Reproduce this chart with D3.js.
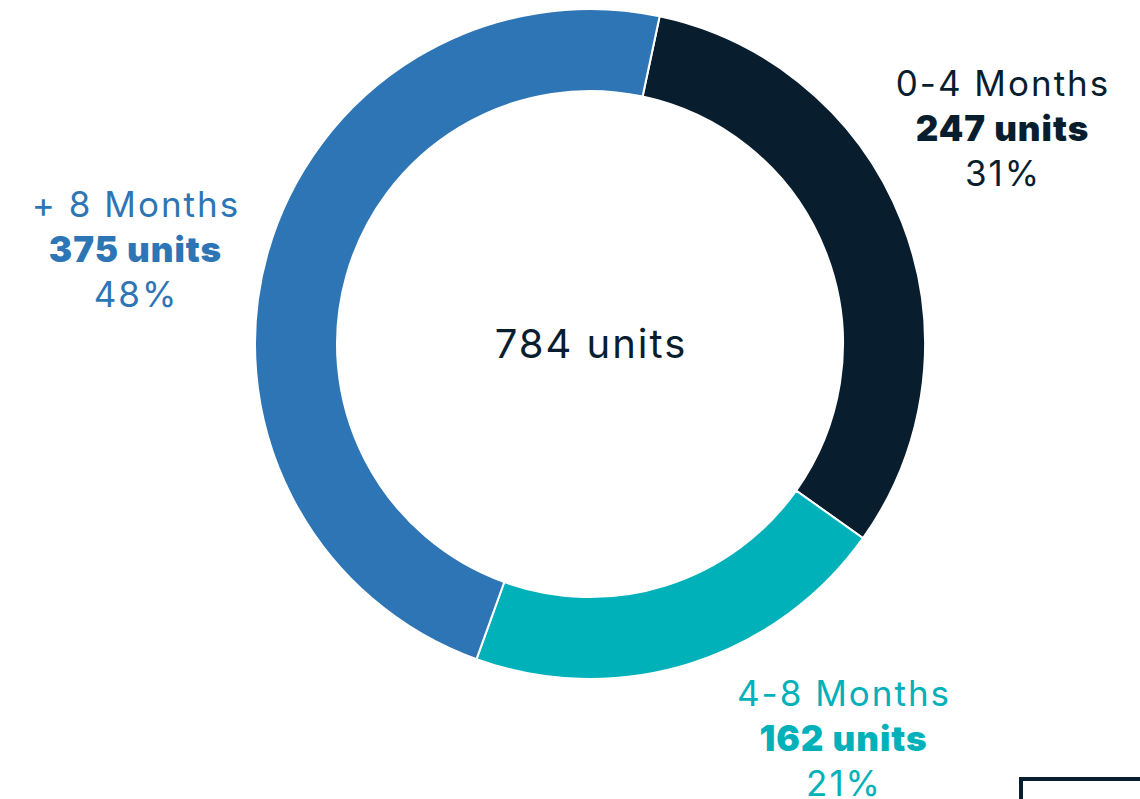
<!DOCTYPE html>
<html>
<head>
<meta charset="utf-8">
<script src="https://cdn.jsdelivr.net/npm/d3@7"></script>
<style>
  html, body { margin: 0; padding: 0; background: #ffffff; }
  svg { display: block; }
  text { font-family: Inter, "Open Sans", sans-serif; }
</style>
</head>
<body>
<svg id="chart" width="1140" height="799"></svg>
<script>
// Inventory age buckets
const categories = ["0-4 Months", "4-8 Months", "+ 8 Months"];
const units = [247, 162, 375];
const percentLabels = ["31%", "21%", "48%"];
const totalLabel = "784 units";
const colors = ["#081e2f", "#00b1b9", "#2e75b5"];

// Label placement relative to the ring centre (dx, dy of the first line baseline)
const labelOffsets = [[412, -248], [253, 362], [-455, -127]];

const width = 1140, height = 799;
const cx = 590, cy = 344;
const outerR = 335, innerR = 253;
const startAngle = 12 * Math.PI / 180;

const svg = d3.select("#chart");
const g = svg.append("g").attr("transform", `translate(${cx},${cy})`);

const data = categories.map((c, i) => ({ name: c, value: units[i], pct: percentLabels[i], color: colors[i], off: labelOffsets[i] }));

const pie = d3.pie()
  .value(d => d.value)
  .sort(null)
  .startAngle(startAngle)
  .endAngle(startAngle + 2 * Math.PI);

const arc = d3.arc().innerRadius(innerR).outerRadius(outerR);

g.selectAll("path.slice")
  .data(pie(data))
  .join("path")
  .attr("class", "slice")
  .attr("d", arc)
  .attr("fill", d => d.data.color)
  .attr("stroke", "#ffffff")
  .attr("stroke-width", 2);

// Centre total
g.append("text")
  .attr("text-anchor", "middle")
  .attr("x", 1)
  .attr("y", 14)
  .attr("font-size", 40)
  .attr("letter-spacing", "2px")
  .attr("fill", "#081e2f")
  .text(totalLabel);

// Slice labels
const lineGap = 45;
const labels = g.selectAll("g.label")
  .data(data)
  .join("g")
  .attr("class", "label")
  .attr("transform", d => `translate(${d.off[0]},${d.off[1]})`)
  .attr("fill", d => d.color)
  .attr("text-anchor", "middle");

labels.append("text")
  .attr("x", 1)
  .attr("font-size", 35)
  .attr("letter-spacing", "2px")
  .text(d => d.name);
labels.append("text")
  .attr("x", 0.5)
  .attr("y", lineGap)
  .attr("font-size", 35)
  .attr("font-weight", 900)
  .attr("letter-spacing", "1px")
  .text(d => `${d.value} units`);
labels.append("text")
  .attr("x", 1)
  .attr("y", lineGap * 2)
  .attr("font-size", 35)
  .attr("letter-spacing", "2px")
  .text(d => d.pct);

// Framed box at the lower right edge
svg.append("rect")
  .attr("x", 1021)
  .attr("y", 779)
  .attr("width", 200)
  .attr("height", 100)
  .attr("fill", "none")
  .attr("stroke", "#081e2f")
  .attr("stroke-width", 4);
</script>
</body>
</html>
